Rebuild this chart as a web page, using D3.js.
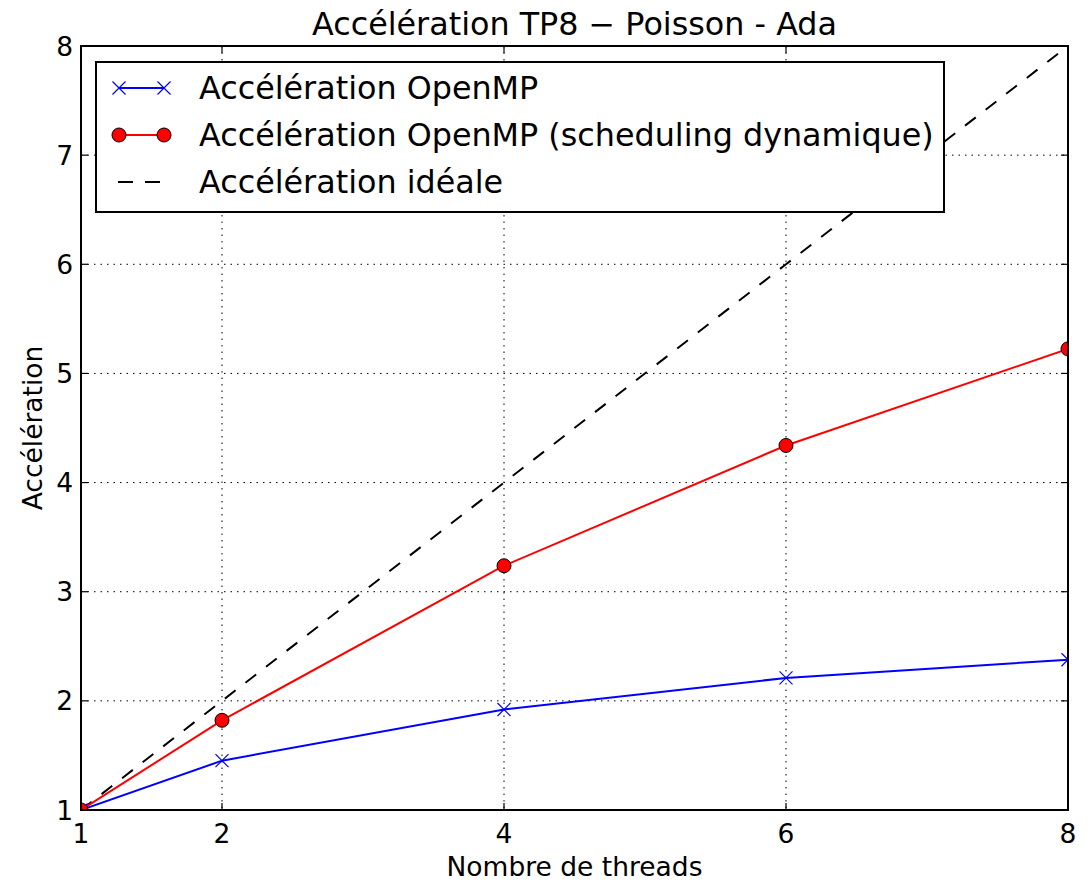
<!DOCTYPE html>
<html><head><meta charset="utf-8">
<script src="https://cdn.jsdelivr.net/npm/d3@7"></script>
<style>body{margin:0;background:#fff;} text{font-family:"DejaVu Sans",sans-serif;}</style>
</head><body>
<svg id="c" width="1091" height="882"></svg>
<script>
const threads = [1, 2, 4, 6, 8];
const accelOpenMP = [1.0, 1.452, 1.921, 2.21, 2.377];
const accelDynamic = [1.0, 1.822, 3.238, 4.34, 5.225];
const ideal = [1, 2, 4, 6, 8];
const xTicks = [1, 2, 4, 6, 8];
const yTicks = [1, 2, 3, 4, 5, 6, 7, 8];
const title = "Accélération TP8 − Poisson - Ada";
const xLabel = "Nombre de threads";
const yLabel = "Accélération";
const legendLabels = ["Accélération OpenMP", "Accélération OpenMP (scheduling dynamique)", "Accélération idéale"];

const svg = d3.select("#c");
const L = 81, R = 1068, T = 46, B = 810;
const x = d3.scaleLinear().domain([1, 8]).range([L, R]);
const y = d3.scaleLinear().domain([1, 8]).range([B, T]);

svg.append("defs").append("clipPath").attr("id", "clip")
  .append("rect").attr("x", L).attr("y", T).attr("width", R - L).attr("height", B - T);

// grid
const grid = svg.append("g");
xTicks.forEach(t => grid.append("line").attr("x1", x(t)).attr("x2", x(t)).attr("y1", T).attr("y2", B)
  .attr("stroke", "#000").attr("stroke-width", 1).attr("stroke-dasharray", "1.5,5"));
yTicks.forEach(t => grid.append("line").attr("y1", y(t)).attr("y2", y(t)).attr("x1", L).attr("x2", R)
  .attr("stroke", "#000").attr("stroke-width", 1).attr("stroke-dasharray", "1.5,5"));

const plot = svg.append("g").attr("clip-path", "url(#clip)");
const line = (arr) => d3.line().x((d, i) => x(threads[i])).y(d => y(d))(arr);

plot.append("path").attr("d", line(ideal)).attr("fill", "none").attr("stroke", "#000")
  .attr("stroke-width", 2).attr("stroke-dasharray", "13.5,12.5");
plot.append("path").attr("d", line(accelOpenMP)).attr("fill", "none").attr("stroke", "#0000ff").attr("stroke-width", 2);
plot.append("path").attr("d", line(accelDynamic)).attr("fill", "none").attr("stroke", "#ff0000").attr("stroke-width", 2);

const cross = (g, cx, cy, s) => {
  g.append("path").attr("d", `M${cx - s},${cy - s}L${cx + s},${cy + s}M${cx - s},${cy + s}L${cx + s},${cy - s}`)
    .attr("stroke", "#0000ff").attr("stroke-width", 1.2).attr("fill", "none");
};
accelOpenMP.forEach((v, i) => cross(plot, x(threads[i]), y(v), 6.5));
accelDynamic.forEach((v, i) => plot.append("circle").attr("cx", x(threads[i])).attr("cy", y(v)).attr("r", 7)
  .attr("fill", "#ff0000").attr("stroke", "#000").attr("stroke-width", 1));

// ticks (inward, both sides)
const tk = svg.append("g").attr("stroke", "#000").attr("stroke-width", 1.2);
xTicks.forEach(t => {
  tk.append("line").attr("x1", x(t)).attr("x2", x(t)).attr("y1", B).attr("y2", B - 7);
  tk.append("line").attr("x1", x(t)).attr("x2", x(t)).attr("y1", T).attr("y2", T + 7);
});
yTicks.forEach(t => {
  tk.append("line").attr("y1", y(t)).attr("y2", y(t)).attr("x1", L).attr("x2", L + 7);
  tk.append("line").attr("y1", y(t)).attr("y2", y(t)).attr("x1", R).attr("x2", R - 7);
});

svg.append("rect").attr("x", L).attr("y", T).attr("width", R - L).attr("height", B - T)
  .attr("fill", "none").attr("stroke", "#000").attr("stroke-width", 2);

// tick labels
xTicks.forEach(t => svg.append("text").attr("x", x(t)).attr("y", 843).attr("text-anchor", "middle")
  .attr("font-size", 26.5).text(t));
yTicks.forEach(t => svg.append("text").attr("x", 73).attr("y", y(t) + 9.5).attr("text-anchor", "end")
  .attr("font-size", 26.5).text(t));

svg.append("text").attr("x", (L + R) / 2).attr("y", 35).attr("text-anchor", "middle").attr("font-size", 31.8).text(title);
svg.append("text").attr("x", (L + R) / 2).attr("y", 876).attr("text-anchor", "middle").attr("font-size", 26.5).text(xLabel);
svg.append("text").attr("transform", `translate(42,${(T + B) / 2}) rotate(-90)`).attr("text-anchor", "middle")
  .attr("font-size", 26.5).text(yLabel);

// legend
const lg = svg.append("g");
lg.append("rect").attr("x", 96).attr("y", 62).attr("width", 848).attr("height", 150)
  .attr("fill", "#fff").attr("stroke", "#000").attr("stroke-width", 2);
const rows = [88, 135, 182];
const lx1 = 119, lx2 = 164;
lg.append("line").attr("x1", lx1).attr("x2", lx2).attr("y1", rows[0]).attr("y2", rows[0]).attr("stroke", "#0000ff").attr("stroke-width", 2);
cross(lg, lx1, rows[0], 6.5); cross(lg, lx2, rows[0], 6.5);
lg.append("line").attr("x1", lx1).attr("x2", lx2).attr("y1", rows[1]).attr("y2", rows[1]).attr("stroke", "#ff0000").attr("stroke-width", 2);
[lx1, lx2].forEach(cx => lg.append("circle").attr("cx", cx).attr("cy", rows[1]).attr("r", 7)
  .attr("fill", "#ff0000").attr("stroke", "#000").attr("stroke-width", 1));
lg.append("line").attr("x1", 118).attr("x2", 160).attr("y1", rows[2]).attr("y2", rows[2]).attr("stroke", "#000")
  .attr("stroke-width", 2).attr("stroke-dasharray", "15,12");
legendLabels.forEach((s, i) => lg.append("text").attr("x", 199).attr("y", rows[i] + 11).attr("font-size", 31.8).text(s));
</script>
</body></html>
